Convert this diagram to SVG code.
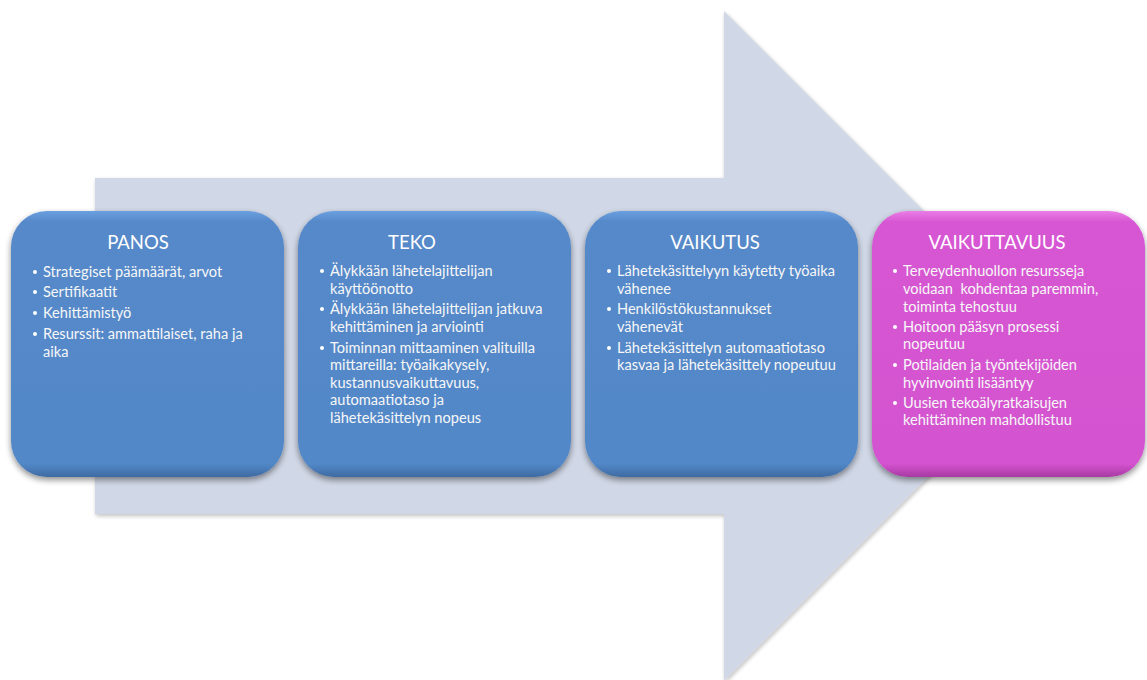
<svg xmlns="http://www.w3.org/2000/svg" width="1147" height="680" viewBox="0 0 1147 680">
<defs>
<style>
.title{font-family:Lato,"Liberation Sans",sans-serif;font-size:18.5px;fill:#ffffff}
.txt{font-family:Lato,"Liberation Sans",sans-serif;font-size:14.6px;fill:#f7f7f7}
.dot{fill:#ffffff}
</style>
<linearGradient id="gBlue" x1="0" y1="0" x2="0" y2="1">
<stop offset="0" stop-color="#6a9fe0"/>
<stop offset="0.04" stop-color="#5689c9"/>
<stop offset="0.95" stop-color="#5288c8"/>
<stop offset="1" stop-color="#3e6aa2"/>
</linearGradient>
<linearGradient id="gPink" x1="0" y1="0" x2="0" y2="1">
<stop offset="0" stop-color="#ea7de6"/>
<stop offset="0.04" stop-color="#d757d3"/>
<stop offset="0.95" stop-color="#d453d0"/>
<stop offset="1" stop-color="#a73aa3"/>
</linearGradient>
<filter id="sh" x="-10%" y="-10%" width="120%" height="125%">
<feGaussianBlur in="SourceAlpha" stdDeviation="3"/>
<feOffset dx="0" dy="3" result="b"/>
<feComponentTransfer><feFuncA type="linear" slope="0.45"/></feComponentTransfer>
<feMerge><feMergeNode/><feMergeNode in="SourceGraphic"/></feMerge>
</filter>
<filter id="ash" x="-5%" y="-5%" width="110%" height="110%">
<feGaussianBlur in="SourceAlpha" stdDeviation="2"/>
<feOffset dx="1" dy="2"/>
<feComponentTransfer><feFuncA type="linear" slope="0.25"/></feComponentTransfer>
<feMerge><feMergeNode/><feMergeNode in="SourceGraphic"/></feMerge>
</filter>
</defs>
<rect width="1147" height="680" fill="#ffffff"/>
<g id="arrow">
<polygon points="95,178 724,178 724,11 1059,346 724,681 724,514 95,514" fill="#d0d7e6" filter="url(#ash)"/>
</g>
<g id="connectors"></g>
<g id="panos">
<rect x="11" y="211" width="273" height="266" rx="36" fill="url(#gBlue)" filter="url(#sh)"/>
<text class="title" x="138" y="249" text-anchor="middle">PANOS</text>
<circle class="dot" cx="35" cy="272" r="2"/>
<text class="txt" x="43" y="277">Strategiset päämäärät, arvot</text>
<circle class="dot" cx="35" cy="292" r="2"/>
<text class="txt" x="43" y="297">Sertifikaatit</text>
<circle class="dot" cx="35" cy="313" r="2"/>
<text class="txt" x="43" y="318">Kehittämistyö</text>
<circle class="dot" cx="35" cy="334" r="2"/>
<text class="txt" x="43" y="339">Resurssit: ammattilaiset, raha ja</text>
<text class="txt" x="43" y="357">aika</text>
</g>
<g id="teko">
<rect x="298" y="211" width="273" height="266" rx="36" fill="url(#gBlue)" filter="url(#sh)"/>
<text class="title" x="412" y="249" text-anchor="middle">TEKO</text>
<circle class="dot" cx="322" cy="271" r="2"/>
<text class="txt" x="330" y="276">Älykkään lähetelajittelijan</text>
<text class="txt" x="330" y="294">käyttöönotto</text>
<circle class="dot" cx="322" cy="309" r="2"/>
<text class="txt" x="330" y="314">Älykkään lähetelajittelijan jatkuva</text>
<text class="txt" x="330" y="332">kehittäminen ja arviointi</text>
<circle class="dot" cx="322" cy="348" r="2"/>
<text class="txt" x="330" y="353">Toiminnan mittaaminen valituilla</text>
<text class="txt" x="330" y="370">mittareilla: työaikakysely,</text>
<text class="txt" x="330" y="388">kustannusvaikuttavuus,</text>
<text class="txt" x="330" y="405">automaatiotaso ja</text>
<text class="txt" x="330" y="423">lähetekäsittelyn nopeus</text>
</g>
<g id="vaikutus">
<rect x="585" y="211" width="273" height="266" rx="36" fill="url(#gBlue)" filter="url(#sh)"/>
<text class="title" x="715" y="249" text-anchor="middle">VAIKUTUS</text>
<circle class="dot" cx="609" cy="271" r="2"/>
<text class="txt" x="617" y="276">Lähetekäsittelyyn käytetty työaika</text>
<text class="txt" x="617" y="294">vähenee</text>
<circle class="dot" cx="609" cy="309" r="2"/>
<text class="txt" x="617" y="314">Henkilöstökustannukset</text>
<text class="txt" x="617" y="332">vähenevät</text>
<circle class="dot" cx="609" cy="348" r="2"/>
<text class="txt" x="617" y="353">Lähetekäsittelyn automaatiotaso</text>
<text class="txt" x="617" y="370">kasvaa ja lähetekäsittely nopeutuu</text>
</g>
<g id="vaikuttavuus">
<rect x="872" y="211" width="273" height="266" rx="36" fill="url(#gPink)" filter="url(#sh)"/>
<text class="title" x="997" y="249" text-anchor="middle">VAIKUTTAVUUS</text>
<circle class="dot" cx="895" cy="271" r="2"/>
<text class="txt" x="903" y="276">Terveydenhuollon resursseja</text>
<text class="txt" x="903" y="294" xml:space="preserve">voidaan  kohdentaa paremmin,</text>
<text class="txt" x="903" y="312">toiminta tehostuu</text>
<circle class="dot" cx="895" cy="327" r="2"/>
<text class="txt" x="903" y="332">Hoitoon pääsyn prosessi</text>
<text class="txt" x="903" y="349">nopeutuu</text>
<circle class="dot" cx="895" cy="365" r="2"/>
<text class="txt" x="903" y="370">Potilaiden ja työntekijöiden</text>
<text class="txt" x="903" y="388">hyvinvointi lisääntyy</text>
<circle class="dot" cx="895" cy="403" r="2"/>
<text class="txt" x="903" y="408">Uusien tekoälyratkaisujen</text>
<text class="txt" x="903" y="425">kehittäminen mahdollistuu</text>
</g>
</svg>
